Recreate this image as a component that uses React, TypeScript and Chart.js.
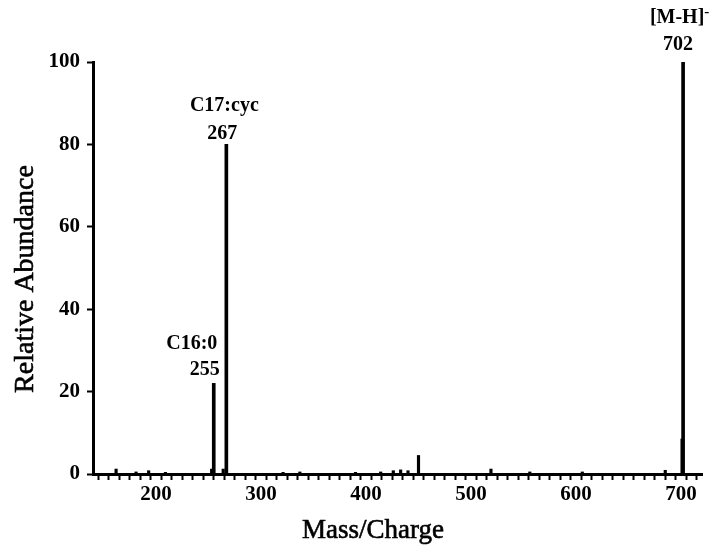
import { useEffect, useRef } from "react";
import { Chart, registerables } from "chart.js";

Chart.register(...registerables);

// Main ions (m/z, relative abundance %)
const majorMz = [255, 267, 702];
const majorAbundance = [22, 80, 100];

// Minor ions and background peaks
const minorMz = [162, 181, 193, 209, 253, 264, 321, 337, 390, 414, 426, 433, 440, 450, 519, 556, 606, 685, 701];
const minorAbundance = [1.2, 0.5, 0.8, 0.4, 1.2, 1.2, 0.4, 0.5, 0.4, 0.5, 0.8, 1.0, 0.8, 4.5, 1.2, 0.5, 0.5, 0.9, 8.5];

// Axis ticks
const xTickLabels = [200, 300, 400, 500, 600, 700];
const yTickValues = [0, 20, 40, 60, 80, 100];

// Peak annotations
const peakLabelMz = [267, 255, 702];
const peakLabelNames = ["C17:cyc", "C16:0", "[M-H]"];
const peakLabelCharges = ["", "", "-"];

const xTitle = "Mass/Charge";
const yTitle = "Relative Abundance";

const FONT = "'Liberation Serif', 'Times New Roman', Times, serif";

// Per-annotation placement relative to the peak top (pixels)
const labelPlacement = [
  { nameDx: -2, nameDy: -39, mzDx: -4, mzDy: -11 },
  { nameDx: -22, nameDy: -40, mzDx: -9, mzDy: -14 },
  { nameDx: -6, nameDy: -44, mzDx: -5, mzDy: -17 },
];

const annotationPlugin = {
  id: "peakAnnotations",
  afterDatasetsDraw(chart: any) {
    const { ctx, scales } = chart;
    const xs = scales.x;
    const ys = scales.y;
    ctx.save();
    ctx.fillStyle = "#000";
    ctx.textBaseline = "middle";
    ctx.textAlign = "center";
    peakLabelMz.forEach((mz, i) => {
      const idx = majorMz.indexOf(mz);
      const top = ys.getPixelForValue(majorAbundance[idx]);
      const px = xs.getPixelForValue(mz);
      const p = labelPlacement[i];
      ctx.font = `bold 20px ${FONT}`;
      const name = peakLabelNames[i];
      const nx = px + p.nameDx;
      const ny = top + p.nameDy;
      ctx.fillText(name, nx, ny);
      if (peakLabelCharges[i]) {
        const w = ctx.measureText(name).width;
        ctx.font = `bold 15px ${FONT}`;
        ctx.textAlign = "left";
        ctx.fillText(peakLabelCharges[i], nx + w / 2, ny - 6);
        ctx.textAlign = "center";
        ctx.font = `bold 20px ${FONT}`;
      }
      ctx.fillText(String(mz), px + p.mzDx, top + p.mzDy);
    });
    ctx.restore();
  },
};

const axisTitlePlugin = {
  id: "axisTitles",
  afterDraw(chart: any) {
    const { ctx } = chart;
    ctx.save();
    ctx.fillStyle = "#000";
    ctx.strokeStyle = "#000";
    ctx.lineWidth = 0.6;
    ctx.font = `27px ${FONT}`;
    ctx.textAlign = "center";
    ctx.textBaseline = "alphabetic";
    ctx.fillText(xTitle, 373, 538);
    ctx.strokeText(xTitle, 373, 538);
    ctx.translate(33, 279);
    ctx.rotate(-Math.PI / 2);
    ctx.font = `28px ${FONT}`;
    ctx.fillText(yTitle, 0, 0);
    ctx.strokeText(yTitle, 0, 0);
    ctx.restore();
  },
};

export default function App() {
  const canvasRef = useRef<HTMLCanvasElement | null>(null);

  useEffect(() => {
    if (!canvasRef.current) return;
    const chart = new Chart(canvasRef.current, {
      type: "bar",
      data: {
        datasets: [
          {
            data: majorMz.map((mz, i) => ({ x: mz, y: majorAbundance[i] })),
            backgroundColor: "#000",
            barThickness: 3,
            grouped: false,
          },
          {
            data: minorMz.map((mz, i) => ({ x: mz, y: minorAbundance[i] })),
            backgroundColor: "#000",
            barThickness: 2.5,
            grouped: false,
          },
        ] as any,
      },
      options: {
        animation: false,
        responsive: false,
        layout: { padding: { top: 62, right: 8, left: 0, bottom: 0 } },
        plugins: {
          legend: { display: false },
          tooltip: { enabled: false },
        },
        scales: {
          x: {
            type: "linear",
            min: 140,
            max: 720,
            offset: false,
            afterBuildTicks: (s: any) => {
              const t = [];
              for (let v = 140; v <= 720; v += 10) t.push({ value: v });
              s.ticks = t;
            },
            afterFit: (s: any) => {
              s.height = 77;
            },
            ticks: {
              autoSkip: false,
              maxRotation: 0,
              padding: 2,
              color: "#000",
              font: { family: FONT, size: 21, weight: "bold" },
              callback: (v: any) => (xTickLabels.includes(Number(v)) ? String(v) : ""),
            },
            grid: {
              drawOnChartArea: false,
              drawTicks: true,
              tickLength: 6,
              tickWidth: 2,
              tickColor: "#000",
            },
            border: { color: "#000", width: 3 },
          },
          y: {
            min: 0,
            max: 100,
            afterBuildTicks: (s: any) => {
              s.ticks = yTickValues.map((v) => ({ value: v }));
            },
            afterFit: (s: any) => {
              s.width = 93;
            },
            ticks: {
              padding: 7,
              color: "#000",
              font: { family: FONT, size: 21, weight: "bold" },
            },
            grid: {
              drawOnChartArea: false,
              drawTicks: true,
              tickLength: 6,
              tickWidth: 2,
              tickColor: "#000",
            },
            border: { color: "#000", width: 3 },
          },
        },
      } as any,
      plugins: [annotationPlugin, axisTitlePlugin],
    });
    return () => chart.destroy();
  }, []);

  return (
    <div style={{ position: "absolute", left: 0, top: 0, width: 710, height: 551, background: "#fff" }}>
      <canvas ref={canvasRef} width={710} height={551} />
    </div>
  );
}
